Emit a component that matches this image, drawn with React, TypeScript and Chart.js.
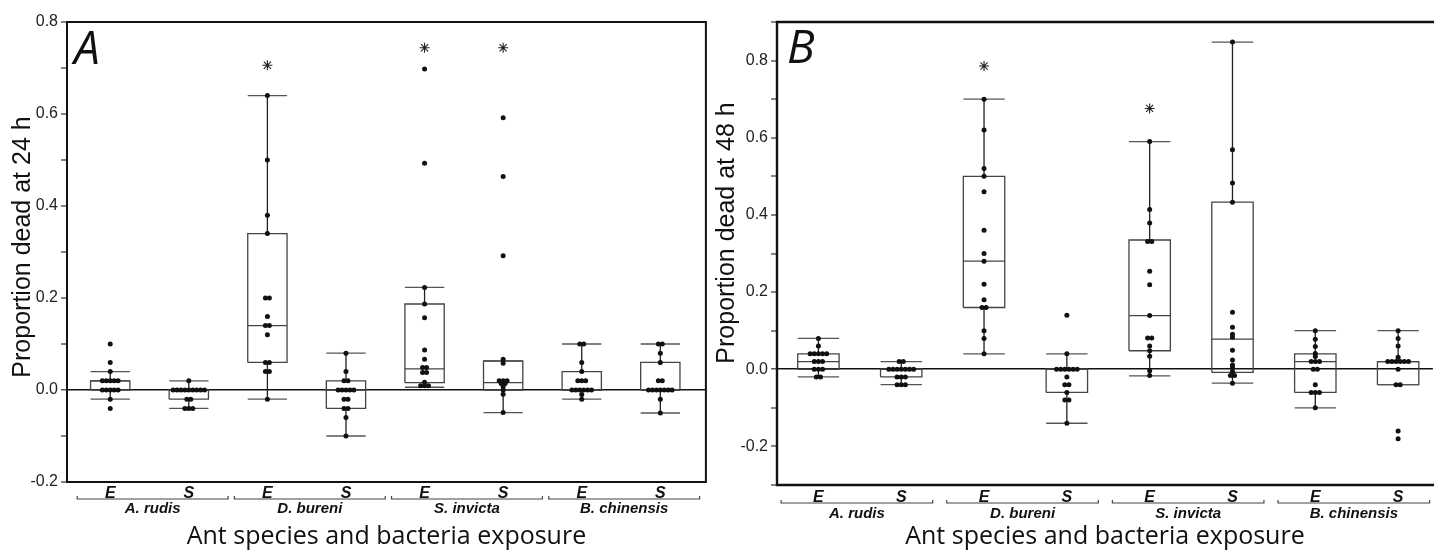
import React, { useEffect, useRef } from 'react';
import { Chart, registerables } from 'chart.js';
Chart.register(...registerables);

// ---------- shared labels ----------
const SPECIES = ['A. rudis', 'D. bureni', 'S. invicta', 'B. chinensis'];
const EXPOSURE_LABELS = ['E', 'S', 'E', 'S', 'E', 'S', 'E', 'S'];
const X_TITLE = 'Ant species and bacteria exposure';

// ---------- Panel A: proportion dead at 24 h ----------
const A_AR_E = [0.1, 0.06, 0.04, 0.02, 0.02, 0.02, 0.02, 0.02, 0, 0, 0, 0, 0, -0.02, -0.04];
const A_AR_S = [0.02, 0, 0, 0, 0, 0, 0, 0, 0, 0, -0.02, -0.02, -0.04, -0.04, -0.04];
const A_DB_E = [0.64, 0.5, 0.38, 0.34, 0.2, 0.2, 0.16, 0.14, 0.14, 0.12, 0.06, 0.06, 0.04, 0.04, -0.02];
const A_DB_S = [0.08, 0.04, 0.02, 0.02, 0, 0, 0, 0, 0, -0.02, -0.02, -0.04, -0.04, -0.06, -0.1];
const A_SI_E = [0.698, 0.493, 0.223, 0.187, 0.157, 0.087, 0.067, 0.049, 0.049, 0.038, 0.038, 0.017, 0.009, 0.009, 0.009];
const A_SI_S = [0.592, 0.464, 0.292, 0.067, 0.058, 0.02, 0.02, 0.02, 0.014, 0.014, 0.007, 0.0, -0.009, -0.049];
const A_BC_E = [0.1, 0.1, 0.06, 0.04, 0.02, 0.02, 0.02, 0, 0, 0, 0, 0, 0, -0.01, -0.02];
const A_BC_S = [0.1, 0.1, 0.08, 0.06, 0.02, 0.02, 0, 0, 0, 0, 0, 0, 0, -0.02, -0.05];
const A_POINTS = [A_AR_E, A_AR_S, A_DB_E, A_DB_S, A_SI_E, A_SI_S, A_BC_E, A_BC_S];
const A_LOW = [-0.02, -0.04, -0.02, -0.1, 0.006, -0.049, -0.02, -0.05];
const A_Q1 = [0.0, -0.02, 0.06, -0.04, 0.016, 0.0, 0.0, 0.0];
const A_MED = [0.02, 0.0, 0.14, 0.0, 0.046, 0.016, 0.0, 0.0];
const A_Q3 = [0.02, 0.0, 0.34, 0.02, 0.187, 0.063, 0.04, 0.06];
const A_HIGH = [0.04, 0.02, 0.64, 0.08, 0.223, 0.063, 0.1, 0.1];
const A_STARS = [null, null, 0.706, null, 0.744, 0.744, null, null];

// ---------- Panel B: proportion dead at 48 h ----------
const B_AR_E = [0.08, 0.06, 0.04, 0.04, 0.04, 0.04, 0.04, 0.02, 0.02, 0.02, 0, 0, 0, -0.02, -0.02];
const B_AR_S = [0.02, 0.02, 0, 0, 0, 0, 0, 0, 0, -0.02, -0.02, -0.02, -0.04, -0.04, -0.04];
const B_DB_E = [0.7, 0.62, 0.52, 0.5, 0.46, 0.36, 0.3, 0.28, 0.22, 0.18, 0.16, 0.16, 0.1, 0.08, 0.04];
const B_DB_S = [0.14, 0.04, 0, 0, 0, 0, 0, 0, -0.02, -0.04, -0.04, -0.06, -0.08, -0.08, -0.14];
const B_SI_E = [0.59, 0.414, 0.379, 0.331, 0.331, 0.254, 0.219, 0.139, 0.081, 0.081, 0.06, 0.048, 0.034, -0.004, -0.016];
const B_SI_S = [0.848, 0.569, 0.483, 0.433, 0.148, 0.109, 0.091, 0.083, 0.049, 0.024, 0.011, 0.004, -0.006, -0.016, -0.016, -0.036];
const B_BC_E = [0.1, 0.078, 0.059, 0.041, 0.033, 0.02, 0.02, 0.02, 0, 0, -0.04, -0.06, -0.06, -0.06, -0.1];
const B_BC_S = [0.1, 0.08, 0.06, 0.031, 0.02, 0.02, 0.02, 0.02, 0.02, 0.02, 0.0, -0.04, -0.04, -0.16, -0.18];
const B_POINTS = [B_AR_E, B_AR_S, B_DB_E, B_DB_S, B_SI_E, B_SI_S, B_BC_E, B_BC_S];
const B_LOW = [-0.02, -0.04, 0.04, -0.14, -0.017, -0.036, -0.1, -0.04];
const B_Q1 = [0.0, -0.02, 0.16, -0.06, 0.048, -0.008, -0.06, -0.04];
const B_MED = [0.02, 0.0, 0.28, 0.0, 0.139, 0.078, 0.02, 0.02];
const B_Q3 = [0.04, 0.0, 0.5, 0.0, 0.335, 0.433, 0.04, 0.02];
const B_HIGH = [0.08, 0.02, 0.7, 0.04, 0.59, 0.848, 0.1, 0.1];
const B_STARS = [null, null, 0.786, null, 0.676, null, null, null];

type Pt = { x: number; y: number | null };

function swarm(groups: number[][], dx: number): Pt[] {
  const out: Pt[] = [];
  groups.forEach((vals, i) => {
    const counts = new Map<string, number>();
    vals.forEach((v) => {
      const k = v.toFixed(3);
      counts.set(k, (counts.get(k) || 0) + 1);
    });
    const seen = new Map<string, number>();
    vals.forEach((v) => {
      const k = v.toFixed(3);
      const n = counts.get(k) as number;
      const j = seen.get(k) || 0;
      seen.set(k, j + 1);
      out.push({ x: i + (j - (n - 1) / 2) * dx, y: v });
    });
  });
  return out;
}

function boxParts(low: number[], q1: number[], med: number[], q3: number[], high: number[], hw: number) {
  const box: Pt[] = [];
  const median: Pt[] = [];
  const whisk: Pt[] = [];
  const caps: Pt[] = [];
  low.forEach((_, i) => {
    box.push({ x: i - hw, y: q1[i] }, { x: i + hw, y: q1[i] }, { x: i + hw, y: q3[i] }, { x: i - hw, y: q3[i] }, { x: i - hw, y: q1[i] }, { x: i, y: null });
    median.push({ x: i - hw, y: med[i] }, { x: i + hw, y: med[i] }, { x: i, y: null });
    whisk.push({ x: i, y: q3[i] }, { x: i, y: high[i] }, { x: i, y: null }, { x: i, y: q1[i] }, { x: i, y: low[i] }, { x: i, y: null });
    caps.push({ x: i - hw, y: high[i] }, { x: i + hw, y: high[i] }, { x: i, y: null }, { x: i - hw, y: low[i] }, { x: i + hw, y: low[i] }, { x: i, y: null });
  });
  return { box, median, whisk, caps };
}

const decorPlugin = {
  id: 'decor',
  afterDraw(chart: any, _args: any, o: any) {
    const { ctx, chartArea: ca, scales } = chart;
    const xs = scales.x;
    ctx.save();
    // frame
    ctx.strokeStyle = '#111';
    ctx.lineCap = 'square';
    ctx.lineWidth = o.frameWidth;
    ctx.beginPath();
    ctx.moveTo(ca.left, ca.bottom);
    ctx.lineTo(ca.left, ca.top);
    ctx.lineTo(ca.right, ca.top);
    if (o.closed) {
      ctx.lineTo(ca.right, ca.bottom);
      ctx.closePath();
    } else {
      ctx.moveTo(ca.left, ca.bottom);
      ctx.lineTo(ca.right, ca.bottom);
    }
    ctx.stroke();
    // species brackets and names
    ctx.lineCap = 'butt';
    ctx.strokeStyle = '#444';
    ctx.lineWidth = 1.2;
    ctx.fillStyle = '#111';
    ctx.font = 'italic bold 15px "Liberation Sans", Arial, sans-serif';
    ctx.textAlign = 'center';
    ctx.textBaseline = 'middle';
    SPECIES.forEach((name, s) => {
      const l = xs.getPixelForValue(2 * s + o.bracketL);
      const r = xs.getPixelForValue(2 * s + o.bracketR);
      const yb = ca.bottom + o.bracketY;
      ctx.beginPath();
      ctx.moveTo(l, yb - 3);
      ctx.lineTo(l, yb);
      ctx.lineTo(r, yb);
      ctx.lineTo(r, yb - 3);
      ctx.stroke();
      ctx.fillText(name, (l + r) / 2, ca.bottom + o.nameY);
    });
    // y title
    ctx.save();
    ctx.translate(o.yTitleX, o.yTitleY);
    ctx.rotate(-Math.PI / 2);
    ctx.font = '25px "Liberation Sans", Arial, sans-serif';
    ctx.fillText(o.yTitle, 0, 0);
    ctx.restore();
    // panel letter
    ctx.font = 'italic 46px "Open Sans", "Noto Sans", sans-serif';
    ctx.textAlign = 'left';
    ctx.textBaseline = 'alphabetic';
    ctx.fillText(o.letter, ca.left + o.letterDX, ca.top + o.letterDY);
    ctx.restore();
  },
};

interface PanelSpec {
  points: number[][];
  low: number[];
  q1: number[];
  med: number[];
  q3: number[];
  high: number[];
  stars: (number | null)[];
  yMin: number;
  yMax: number;
  xMin: number;
  xMax: number;
  axisWidth: number;
  axisHeight: number;
  padRight: number;
  tickPad: number;
  decor: any;
}

function makeConfig(p: PanelSpec): any {
  const parts = boxParts(p.low, p.q1, p.med, p.q3, p.high, 0.25);
  const stars: Pt[] = [];
  p.stars.forEach((v, i) => {
    if (v !== null) stars.push({ x: i, y: v });
  });
  const lineDs = (data: Pt[], color: string, width: number) => ({
    data,
    showLine: true,
    spanGaps: false,
    borderColor: color,
    borderWidth: width,
    pointRadius: 0,
    fill: false,
  });
  return {
    type: 'scatter',
    data: {
      datasets: [
        { data: stars, pointStyle: 'star', pointRadius: 5, borderColor: '#222', borderWidth: 1.1, backgroundColor: '#222' },
        { data: swarm(p.points, 0.05), pointRadius: 2.5, backgroundColor: '#111', borderColor: '#111', borderWidth: 0 },
        lineDs(parts.whisk, '#222', 1.3),
        lineDs(parts.median, '#444', 1.3),
        lineDs(parts.caps, '#555', 1.3),
        lineDs(parts.box, '#444', 1.3),
      ],
    },
    options: {
      animation: false,
      responsive: false,
      events: [],
      layout: { padding: { top: 22, right: p.padRight, left: 0, bottom: 0 } },
      plugins: { legend: { display: false }, tooltip: { enabled: false }, decor: p.decor },
      scales: {
        x: {
          type: 'linear',
          min: p.xMin,
          max: p.xMax,
          afterFit: (axis: any) => {
            axis.height = p.axisHeight;
          },
          afterBuildTicks: (axis: any) => {
            axis.ticks = EXPOSURE_LABELS.map((_, i) => ({ value: i }));
          },
          grid: { display: false, drawTicks: false },
          border: { display: false },
          ticks: {
            autoSkip: false,
            maxRotation: 0,
            padding: p.tickPad,
            color: '#111',
            font: { family: '"Liberation Sans", Arial, sans-serif', size: 16, style: 'italic', weight: 'bold' },
            callback: (v: number) => EXPOSURE_LABELS[Math.round(v)] ?? '',
          },
          title: {
            display: true,
            text: X_TITLE,
            color: '#111',
            padding: { top: 0, bottom: 0 },
            font: { family: '"Open Sans", "Noto Sans", sans-serif', size: 25 },
          },
        },
        y: {
          type: 'linear',
          min: p.yMin,
          max: p.yMax,
          afterFit: (axis: any) => {
            axis.width = p.axisWidth;
          },
          border: { display: false },
          grid: {
            drawTicks: true,
            tickLength: 6,
            tickWidth: 1.2,
            tickColor: '#333',
            color: (c: any) => (Math.abs(c.tick.value) < 1e-9 ? '#111' : 'rgba(0,0,0,0)'),
            lineWidth: (c: any) => (Math.abs(c.tick.value) < 1e-9 ? 1.6 : 0),
          },
          ticks: {
            stepSize: 0.1,
            autoSkip: false,
            padding: 3,
            color: '#222',
            font: { family: '"Liberation Sans", Arial, sans-serif', size: 16 },
            callback: (v: number) => (Math.round(v * 10) % 2 === 0 ? v.toFixed(1) : ''),
          },
        },
      },
    },
    plugins: [decorPlugin],
  };
}

const PANEL_A: PanelSpec = {
  points: A_POINTS, low: A_LOW, q1: A_Q1, med: A_MED, q3: A_Q3, high: A_HIGH, stars: A_STARS,
  yMin: -0.2, yMax: 0.8, xMin: -0.55, xMax: 7.58,
  axisWidth: 67, axisHeight: 70, padRight: 3, tickPad: 2,
  decor: {
    closed: true, frameWidth: 2, bracketL: -0.42, bracketR: 1.5, bracketY: 17, nameY: 27,
    yTitle: 'Proportion dead at 24 h', yTitleX: 23, yTitleY: 247, letter: 'A', letterDX: 7, letterDY: 42,
  },
};

const PANEL_B: PanelSpec = {
  points: B_POINTS, low: B_LOW, q1: B_Q1, med: B_MED, q3: B_Q3, high: B_HIGH, stars: B_STARS,
  yMin: -0.3, yMax: 0.9, xMin: -0.5, xMax: 7.42,
  axisWidth: 65, axisHeight: 67, padRight: 0, tickPad: 3,
  decor: {
    closed: false, frameWidth: 2.4, bracketL: -0.45, bracketR: 1.38, bracketY: 18, nameY: 29,
    yTitle: 'Proportion dead at 48 h', yTitleX: 15, yTitleY: 233, letter: 'B', letterDX: 10, letterDY: 41,
  },
};

function Panel({ spec, left, width }: { spec: PanelSpec; left: number; width: number }) {
  const ref = useRef<HTMLCanvasElement | null>(null);
  useEffect(() => {
    if (!ref.current) return;
    const chart = new Chart(ref.current, makeConfig(spec));
    return () => chart.destroy();
  }, [spec]);
  return (
    <div style={{ position: 'absolute', left, top: 0, width, height: 552 }}>
      <canvas ref={ref} width={width} height={552} style={{ width, height: 552, display: 'block' }} />
    </div>
  );
}

export default function App() {
  return (
    <div style={{ position: 'absolute', left: 0, top: 0, width: 1439, height: 552, background: '#fff', overflow: 'hidden' }}>
      <Panel spec={PANEL_A} left={0} width={712} />
      <Panel spec={PANEL_B} left={712} width={727} />
    </div>
  );
}
